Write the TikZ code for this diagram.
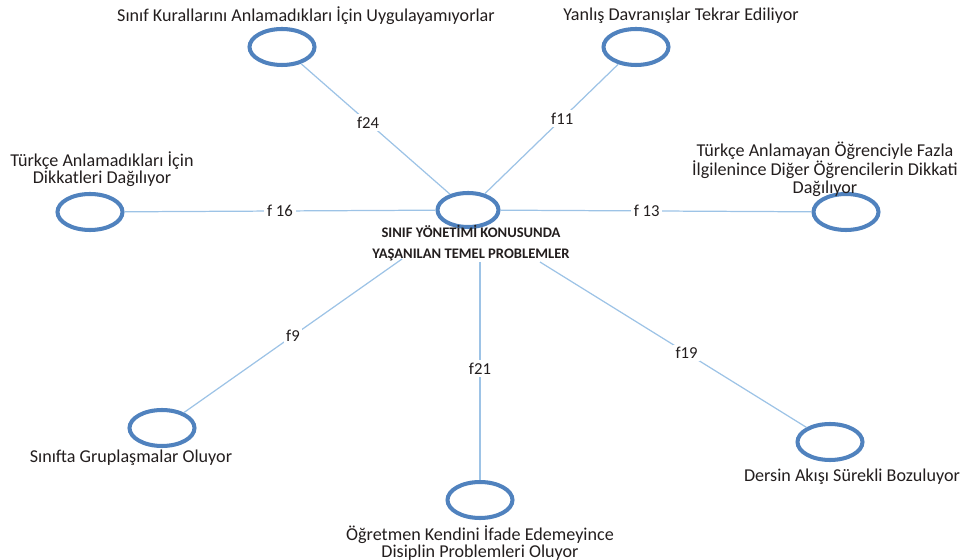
\documentclass[tikz,border=0pt]{standalone}
\usepackage{fontspec}
\setmainfont{Carlito}
\usetikzlibrary{shapes.geometric,positioning,calc}
\definecolor{halka}{RGB}{80,130,190}
\definecolor{bag}{RGB}{157,195,230}
\definecolor{yazi}{RGB}{35,30,30}

\tikzset{
    halka/.style={ellipse, draw=halka, line width=2.3pt, fill=white, minimum width=1.3cm, minimum height=0.72cm, inner sep=0pt},
    etiket/.style={font=\fontsize{10.3}{8.6}\selectfont, text=yazi, align=center, inner sep=1pt},
    bag/.style={draw=bag, line width=0.7pt},
    fno/.style={font=\fontsize{9.5}{10}\selectfont, text=yazi, fill=white, inner sep=1.5pt}
}

\begin{document}
\begin{tikzpicture}[x=0.02cm, y=-0.02cm]
    \useasboundingbox (0,0) rectangle (964,560);

    % merkez
    \node[halka, minimum width=1.22cm, minimum height=0.68cm] (merkez) at (468,210) {};
    \node[font=\fontsize{8.3}{12}\selectfont\bfseries, text=yazi, align=center, inner sep=0pt] (baslik) at (471,243)
        {SINIF YÖNETİMİ KONUSUNDA\\YAŞANILAN TEMEL PROBLEMLER};
    \coordinate (b9) at (402,259);
    \coordinate (b21) at (480,262);
    \coordinate (b19) at (540,262);

    % ust
    \node[halka] (kural) at (282,47) {};
    \node[etiket] (tkural) at (306,16) {Sınıf Kurallarını Anlamadıkları İçin Uygulayamıyorlar};
    \node[halka] (yanlis) at (636,47) {};
    \node[etiket] (tyanlis) at (681,16) {Yanlış Davranışlar Tekrar Ediliyor};

    % yanlar
    \node[halka] (turkce) at (90,212) {};
    \node[etiket] (tturkce) at (102,169) {Türkçe Anlamadıkları İçin\\Dikkatleri Dağılıyor};
    \node[halka] (ilgi) at (846,212) {};
    \node[etiket] (tilgi) at (825,169) {Türkçe Anlamayan Öğrenciyle Fazla\\İlgilenince Diğer Öğrencilerin Dikkati\\Dağılıyor};

    % alt
    \node[halka] (grup) at (162,428) {};
    \node[etiket] (tgrup) at (131,458) {Sınıfta Gruplaşmalar Oluyor};
    \node[halka] (ifade) at (480,500) {};
    \node[etiket] (tifade) at (480,543) {Öğretmen Kendini İfade Edemeyince\\Disiplin Problemleri Oluyor};
    \node[halka] (akis) at (830,442) {};
    \node[etiket] (takis) at (852,477) {Dersin Akışı Sürekli Bozuluyor};

    % baglar
    \draw[bag] (kural) -- node[fno, pos=0.45] {f24} (merkez);
    \draw[bag] (yanlis) -- node[fno, pos=0.42] {f11} (merkez);
    \draw[bag] (turkce) -- node[fno] {f 16} (merkez);
    \draw[bag] (merkez) -- node[fno, pos=0.47] {f 13} (ilgi);
    \draw[bag] (grup) -- node[fno] {f9} (b9);
    \draw[bag] (b21) -- node[fno, pos=0.49] {f21} (ifade);
    \draw[bag] (b19) -- node[fno, pos=0.55] {f19} (akis);
\end{tikzpicture}
\end{document}
